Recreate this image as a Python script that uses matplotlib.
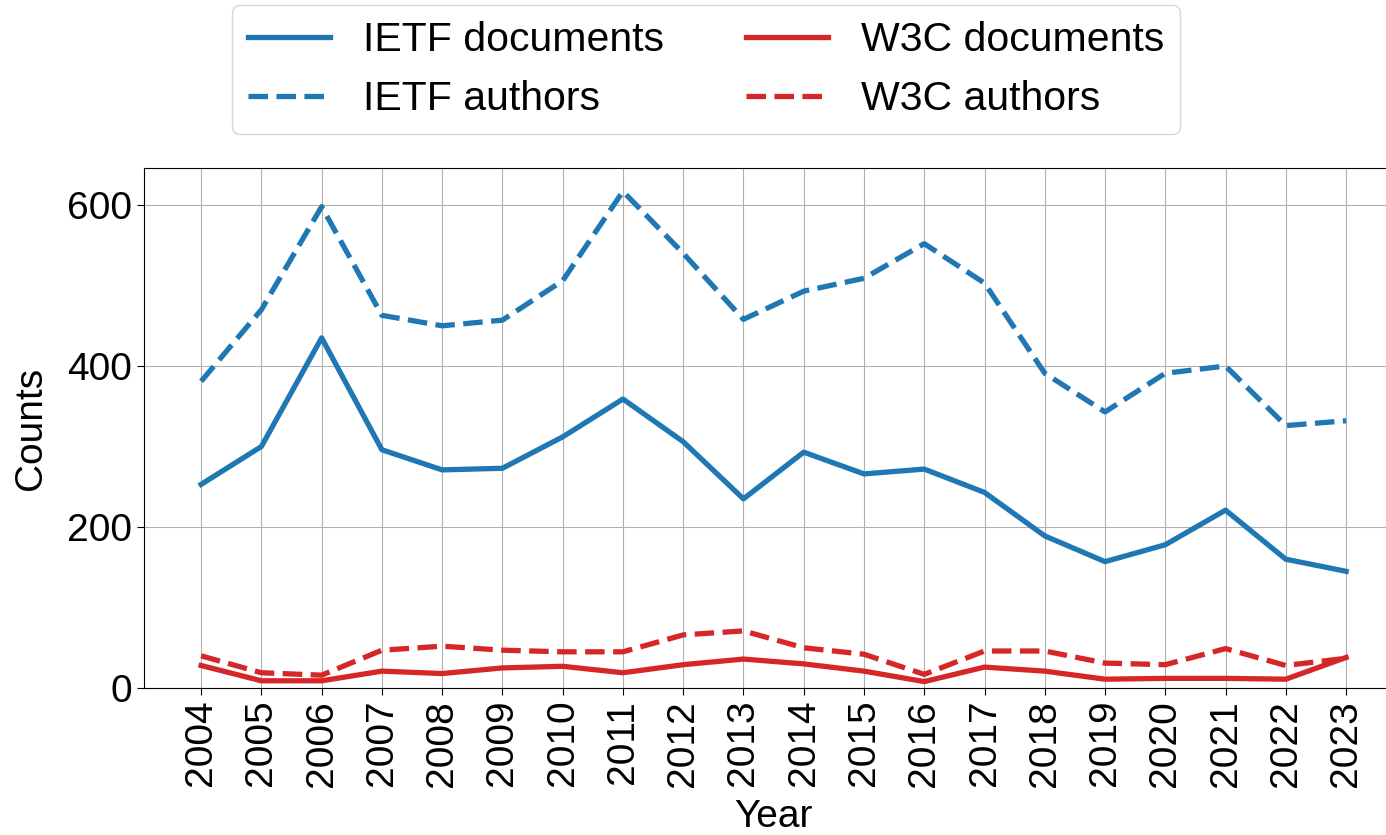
import numpy as np
import matplotlib
matplotlib.use("Agg")
import matplotlib.pyplot as plt

plt.rcParams['font.family'] = ['Liberation Sans', 'DejaVu Sans']
plt.rcParams['font.size'] = 28

# --- datos ---
years = list(range(2004, 2024))
ietf_docs = [253, 300, 435, 296, 271, 273, 312, 359, 306, 235,
             293, 266, 272, 243, 189, 157, 178, 221, 160, 145]
ietf_authors = [381, 470, 598, 463, 450, 457, 506, 617, 540, 458,
                493, 509, 552, 503, 391, 343, 391, 400, 326, 332]
w3c_docs = [28, 9, 9, 21, 18, 25, 27, 19, 29, 36,
            30, 21, 8, 26, 21, 11, 12, 12, 11, 38]
w3c_authors = [40, 19, 16, 47, 52, 47, 45, 45, 66, 71,
               50, 42, 17, 46, 46, 31, 29, 49, 28, 37]

fig = plt.figure(figsize=(13.86, 8.35), dpi=100)
ax = fig.add_axes([0.1038, 0.176, 0.9087, 0.6228])

lw = 3.8
ax.plot(years, ietf_docs, color='tab:blue', lw=lw, label='IETF documents')
ax.plot(years, ietf_authors, color='tab:blue', lw=lw, linestyle='--', label='IETF authors')
ax.plot(years, w3c_docs, color='tab:red', lw=lw, label='W3C documents')
ax.plot(years, w3c_authors, color='tab:red', lw=lw, linestyle='--', label='W3C authors')

ax.set_xlim(2003.05, 2023.95)
ax.set_ylim(0, 646)
ax.set_xticks(years)
ax.set_xticklabels([str(y) for y in years], rotation=90)
ax.set_yticks([0, 200, 400, 600])
ax.tick_params(axis='both', length=5, labelsize=28)
ax.grid(True)
ax.set_xlabel('Year', labelpad=9)
ax.set_ylabel('Counts', labelpad=13)

fig.legend(loc='upper center', bbox_to_anchor=(706 / 1386, 1 - 5 / 835),
           ncol=2, fontsize=29.5, borderaxespad=0)

fig.savefig('out.png', dpi=100)
